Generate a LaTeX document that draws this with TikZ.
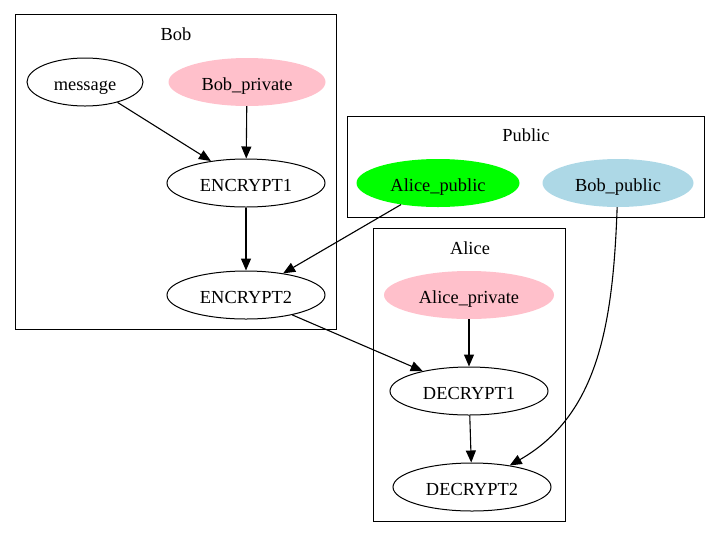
\documentclass[tikz,border=0pt]{standalone}
\usepackage{fontspec}
\setmainfont{Liberation Serif}
\usetikzlibrary{shapes.geometric,arrows.meta}
\definecolor{keypink}{RGB}{255,192,203}
\definecolor{keygreen}{RGB}{0,255,0}
\definecolor{keyblue}{RGB}{173,216,230}

\begin{document}
\begin{tikzpicture}[x=1pt,y=-1pt,every node/.style={font=\fontsize{18.4}{22}\selectfont},
  oval/.style={ellipse,draw,line width=1pt,inner sep=0pt,text height=17pt,text depth=0pt,minimum width=158pt,minimum height=48pt},
  keyoval/.style={ellipse,fill=#1,inner sep=0pt,text height=17pt,text depth=0pt,minimum height=48pt},
  edge/.style={line width=1.1pt,-{Triangle[length=12pt,width=10pt]}}]
\useasboundingbox (0,0) rectangle (720,539);
% clusters
\draw[line width=1pt] (15,14) rectangle (336,329);
\draw[line width=1pt] (347,116) rectangle (704,217);
\draw[line width=1pt] (373,228) rectangle (565,521);
\node (boblabel) at (176,34) {Bob};
\node (publabel) at (526,135) {Public};
\node (alicelabel) at (470,248) {Alice};
% Bob
\node[oval,minimum width=116pt] (msg) at (85,82) {message};
\node[keyoval=keypink,minimum width=157pt] (bobpriv) at (247,82) {Bob\_private};
\node[oval] (enc1) at (246,183) {ENCRYPT1};
\node[oval] (enc2) at (246,295) {ENCRYPT2};
% Public
\node[keyoval=keygreen,minimum width=163pt] (alicepub) at (438,183) {Alice\_public};
\node[keyoval=keyblue,minimum width=151pt] (bobpub) at (618,183) {Bob\_public};
% Alice
\node[keyoval=keypink,minimum width=170pt] (alicepriv) at (469,295) {Alice\_private};
\node[oval] (dec1) at (469,391) {DECRYPT1};
\node[oval] (dec2) at (472,487) {DECRYPT2};
% edges
\draw[edge] (msg) -- (enc1);
\draw[edge] (bobpriv) -- (enc1);
\draw[edge] (enc1) -- (enc2);
\draw[edge] (alicepub) -- (enc2);
\draw[edge] (enc2) -- (dec1);
\draw[edge] (alicepriv) -- (dec1);
\draw[edge] (dec1) -- (dec2);
\draw[edge] (bobpub) .. controls (613,325) and (598,415) .. (dec2);
\end{tikzpicture}
\end{document}
